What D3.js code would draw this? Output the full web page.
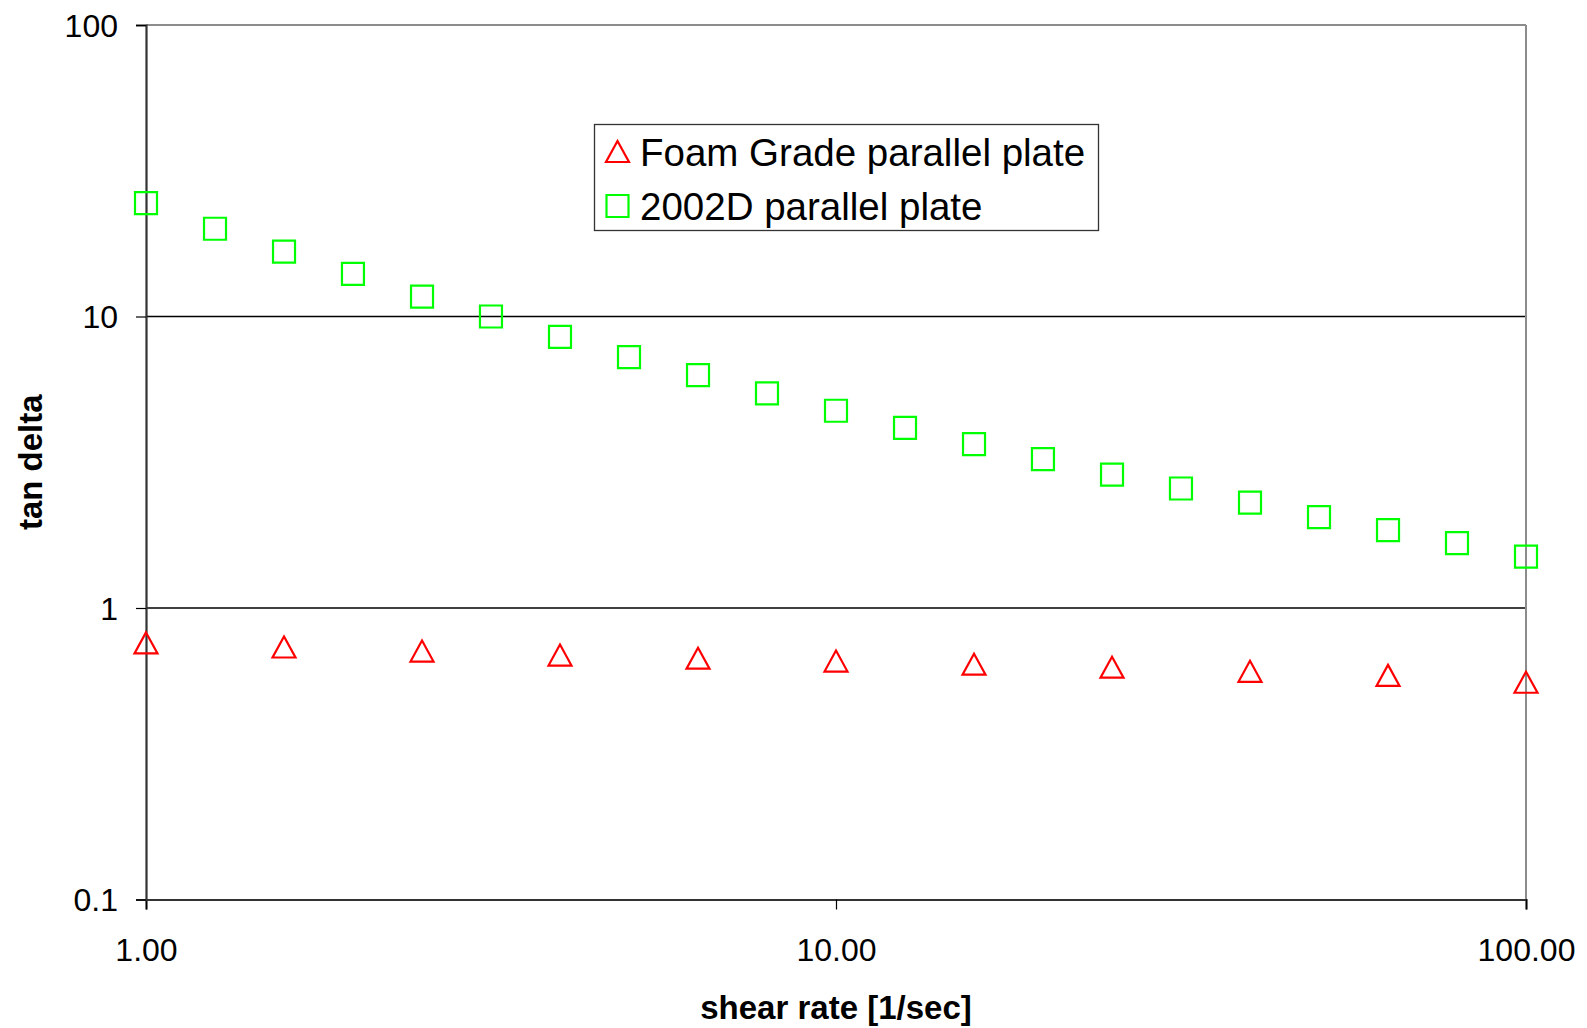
<!DOCTYPE html>
<html><head><meta charset="utf-8">
<script src="https://cdn.jsdelivr.net/npm/d3@7/dist/d3.min.js"></script>
<style>body{margin:0;background:#fff}svg{display:block}text{font-family:"Liberation Sans",Arial,sans-serif}</style>
</head><body><div id="chart"></div>
<script>
const foamRate = [1, 1.585, 2.512, 3.981, 6.310, 10, 15.85, 25.12, 39.81, 63.10, 100];
const foamTanDelta = [0.756, 0.732, 0.709, 0.687, 0.670, 0.655, 0.639, 0.624, 0.604, 0.585, 0.554];
const d2002Rate = [1, 1.259, 1.585, 1.995, 2.512, 3.162, 3.981, 5.012, 6.310, 7.943, 10, 12.59, 15.85, 19.95, 25.12, 31.62, 39.81, 50.12, 63.10, 79.43, 100];
const d2002TanDelta = [24.5, 20.0, 16.7, 14.0, 11.7, 10.0, 8.52, 7.26, 6.29, 5.45, 4.75, 4.15, 3.65, 3.24, 2.87, 2.57, 2.30, 2.05, 1.85, 1.67, 1.50];
const xTicks = [1, 10, 100];
const xTickLabels = ["1.00", "10.00", "100.00"];
const yTicks = [0.1, 1, 10, 100];
const yTickLabels = ["0.1", "1", "10", "100"];
const seriesNames = ["Foam Grade parallel plate", "2002D parallel plate"];
const seriesColors = ["#ff0000", "#00ff00"];

const W = 1587, H = 1028;
const L = 146, R = 1526, T = 25, B = 899.5;
const svg = d3.select("#chart").append("svg").attr("width", W).attr("height", H);
const x = d3.scaleLog().domain([1, 100]).range([L, R]);
const y = d3.scaleLog().domain([0.1, 100]).range([B, T]);

// gridlines
svg.append("g").selectAll("line").data([1, 10]).join("line")
  .attr("x1", L).attr("x2", R).attr("y1", d => y(d)).attr("y2", d => y(d))
  .attr("stroke", "#000").attr("stroke-width", 1.3);

// border top/right
svg.append("line").attr("x1", L).attr("x2", R).attr("y1", T).attr("y2", T).attr("stroke", "#8c8c8c").attr("stroke-width", 2);
svg.append("line").attr("x1", R).attr("x2", R).attr("y1", T).attr("y2", B).attr("stroke", "#8c8c8c").attr("stroke-width", 2);

// axes
const xAxis = d3.axisBottom(x).tickValues(xTicks).tickSize(10).tickFormat((d, i) => xTickLabels[i]);
const gx = svg.append("g").attr("transform", `translate(0,${B})`).call(xAxis);
gx.select(".domain").attr("stroke", "#333").attr("stroke-width", 2.2);
gx.selectAll(".tick line").attr("stroke", "#000").attr("stroke-width", 1.2);
gx.selectAll(".tick text").attr("font-size", 32).attr("fill", "#000").attr("dy", null).attr("y", 61)
  .attr("font-family", '"Liberation Sans",Arial,sans-serif');

const yAxis = d3.axisLeft(y).tickValues(yTicks).tickSize(10).tickFormat((d, i) => yTickLabels[i]);
const gy = svg.append("g").attr("transform", `translate(${L},0)`).call(yAxis);
gy.select(".domain").attr("stroke", "#333").attr("stroke-width", 2.2);
gy.selectAll(".tick line").attr("stroke", "#000").attr("stroke-width", 1.2);
gy.selectAll(".tick text").attr("font-size", 32).attr("fill", "#000").attr("x", -28).attr("dy", "0.35em")
  .attr("font-family", '"Liberation Sans",Arial,sans-serif');

// axis titles
svg.append("text").attr("x", (L + R) / 2).attr("y", 1019).attr("text-anchor", "middle")
  .attr("font-size", 33).attr("font-weight", "bold").text("shear rate [1/sec]");
svg.append("text").attr("transform", `translate(42,${(T + B) / 2}) rotate(-90)`).attr("text-anchor", "middle")
  .attr("font-size", 33).attr("font-weight", "bold").text("tan delta");

const tri = "M0,-11L11.5,10L-11.5,10Z";
const sq = "M-11,-11H11V11H-11Z";

svg.append("g").selectAll("path").data(d3.zip(d2002Rate, d2002TanDelta)).join("path")
  .attr("d", sq).attr("transform", d => `translate(${x(d[0])},${y(d[1])})`)
  .attr("fill", "none").attr("stroke", seriesColors[1]).attr("stroke-width", 2.2);
svg.append("g").selectAll("path").data(d3.zip(foamRate, foamTanDelta)).join("path")
  .attr("d", tri).attr("transform", d => `translate(${x(d[0])},${y(d[1])})`)
  .attr("fill", "none").attr("stroke", seriesColors[0]).attr("stroke-width", 2.2);

// legend
const lg = svg.append("g");
lg.append("rect").attr("x", 594.5).attr("y", 124.5).attr("width", 504).attr("height", 106)
  .attr("fill", "#fff").attr("stroke", "#333").attr("stroke-width", 1.3);
const shapes = [tri, sq];
seriesNames.forEach((n, i) => {
  const cy = 152 + i * 54;
  lg.append("path").attr("d", shapes[i]).attr("transform", `translate(617.5,${cy})`)
    .attr("fill", "none").attr("stroke", seriesColors[i]).attr("stroke-width", 2.2);
  lg.append("text").attr("x", 640).attr("y", cy).attr("dy", "0.36em").attr("font-size", 38.5).text(n);
});
</script></body></html>
